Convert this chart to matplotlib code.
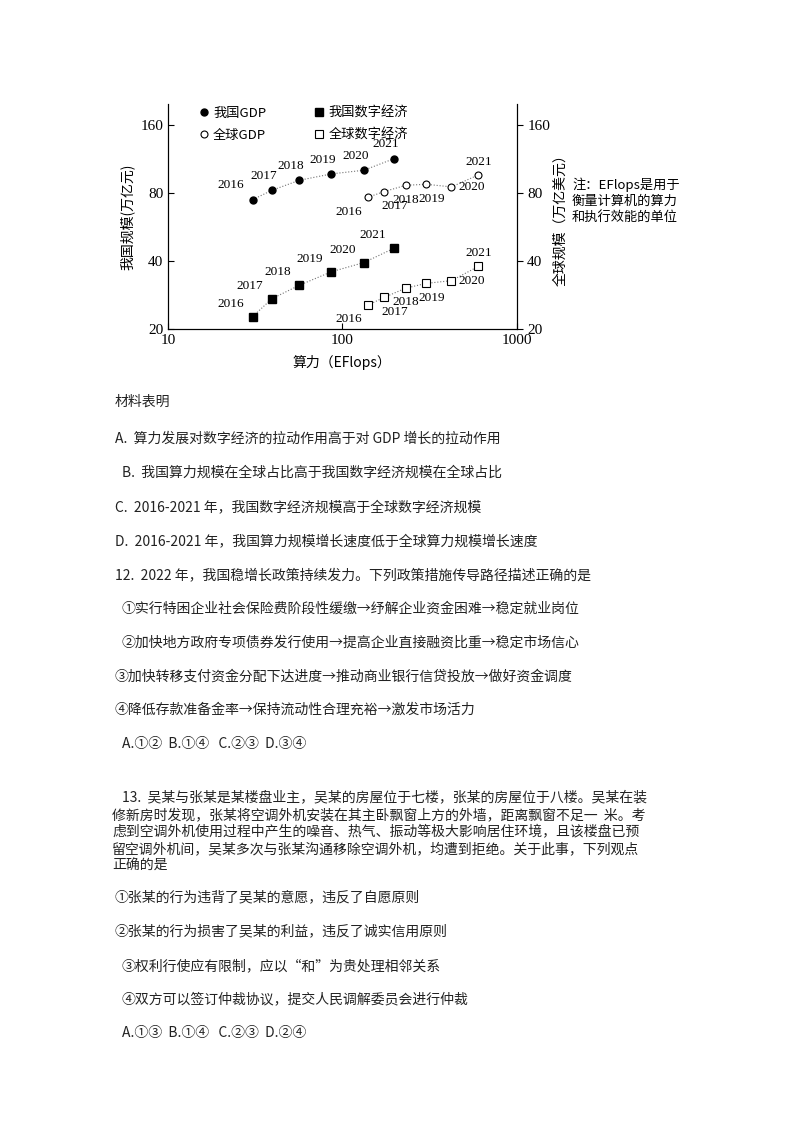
import matplotlib
matplotlib.use("Agg")
import matplotlib.pyplot as plt
from matplotlib.ticker import FixedLocator, NullLocator

plt.rcParams['font.family'] = ['Noto Sans CJK SC', 'DejaVu Sans']
SERIF = ['Liberation Serif', 'Noto Sans CJK SC']

years = ['2016', '2017', '2018', '2019', '2020', '2021']
cn_power = [30.6, 39.4, 56.6, 86.5, 132.8, 198.0]
gl_power = [140, 174, 231, 302, 422, 602]
cn_gdp = [74.6, 82.0, 90.8, 96.9, 100.6, 113.2]
gl_gdp = [76.4, 81.0, 86.3, 87.2, 84.9, 95.9]
cn_dig = [22.7, 27.2, 31.2, 35.8, 39.3, 45.5]
gl_dig = [25.5, 27.6, 30.3, 31.8, 32.7, 37.8]
yticks = [20, 40, 80, 160]

fig = plt.figure(figsize=(8, 11.32), dpi=100)
ax = fig.add_axes([0.21, 0.7094, 0.436, 0.199])
ax.set_xscale('log')
ax.set_yscale('log', base=2)
ax.set_xlim(10, 1000)
ax.set_ylim(20, 198)
ax.spines['top'].set_visible(False)
ax.yaxis.set_minor_locator(NullLocator())
ax.xaxis.set_minor_locator(NullLocator())
ax.set_yticks(yticks)
ax.set_yticklabels([str(v) for v in yticks], family=SERIF, fontsize=11)
ax.set_xticks([10, 100, 1000])
ax.set_xticklabels(['10', '100', '1000'], family=SERIF, fontsize=11)
ax.tick_params(direction='in', length=4)
ax.set_xlabel('算力（EFlops）', fontsize=10, labelpad=6)
ax.set_ylabel('我国规模(万亿元)', fontsize=10)

ax2 = ax.twinx()
ax2.set_yscale('log', base=2)
ax2.set_ylim(20, 198)
ax2.spines['top'].set_visible(False)
ax2.set_yticks(yticks)
ax2.yaxis.set_minor_locator(NullLocator())
ax2.set_yticklabels([str(v) for v in yticks], family=SERIF, fontsize=11)
ax2.tick_params(direction='out', length=4)
ax2.set_ylabel('全球规模（万亿美元）', fontsize=10, labelpad=2)

lk = dict(color='0.45', lw=0.8, ls=':')
ax.plot(cn_power, cn_gdp, **lk)
ax.plot(gl_power, gl_gdp, **lk)
ax.plot(cn_power, cn_dig, **lk)
ax.plot(gl_power, gl_dig, **lk)
h1, = ax.plot(cn_power, cn_gdp, 'o', color='k', ms=5, ls='none', label='我国GDP')
h2, = ax.plot(gl_power, gl_gdp, 'o', mfc='white', mec='k', mew=0.8, ms=5, ls='none', label='全球GDP')
h3, = ax.plot(cn_power, cn_dig, 's', color='k', ms=5.5, ls='none', label='我国数字经济')
h4, = ax.plot(gl_power, gl_dig, 's', mfc='white', mec='k', mew=0.8, ms=5.5, ls='none', label='全球数字经济')
ax.legend(handles=[h1, h2, h3, h4], ncol=2, frameon=False, loc='upper left',
          bbox_to_anchor=(0.05, 1.04), fontsize=9.5, handletextpad=0.2,
          columnspacing=3.5, handlelength=1, labelspacing=0.7)

tk = dict(fontsize=9.5, family=SERIF)
for x, y, t in zip(cn_power, cn_gdp, years):
    ax.annotate(t, (x, y), xytext=(-6, 6), textcoords='offset points',
                ha='right' if t == '2016' else 'center', va='bottom', **tk)
for x, y, t in zip(cn_power, cn_dig, years):
    ax.annotate(t, (x, y), xytext=(-6, 5), textcoords='offset points', ha='right', va='bottom', **tk)
offs_g = {'2016': (-4, -6, 'right', 'top'), '2017': (-2, -6, 'left', 'top'),
          '2018': (0, -6, 'center', 'top'), '2019': (4, -6, 'center', 'top'),
          '2020': (5, 0, 'left', 'center'), '2021': (0, 5, 'center', 'bottom')}
for x, y, t in zip(gl_power, gl_gdp, years):
    dx, dy, ha, va = offs_g[t]
    ax.annotate(t, (x, y), xytext=(dx, dy), textcoords='offset points', ha=ha, va=va, **tk)
for x, y, t in zip(gl_power, gl_dig, years):
    dx, dy, ha, va = offs_g[t]
    ax.annotate(t, (x, y), xytext=(dx, dy), textcoords='offset points', ha=ha, va=va, **tk)

fig.text(0.715, 0.823, '注：EFlops是用于\n衡量计算机的算力\n和执行效能的单位', fontsize=9.5,
         va='center', ha='left', linespacing=1.3)

lines = [
    (115, 402, '材料表明'),
    (115, 439, 'A.  算力发展对数字经济的拉动作用高于对 GDP 增长的拉动作用'),
    (122, 473, 'B.  我国算力规模在全球占比高于我国数字经济规模在全球占比'),
    (115, 507, 'C.  2016-2021 年，我国数字经济规模高于全球数字经济规模'),
    (115, 541, 'D.  2016-2021 年，我国算力规模增长速度低于全球算力规模增长速度'),
    (115, 575, '12.  2022 年，我国稳增长政策持续发力。下列政策措施传导路径描述正确的是'),
    (122, 609, '①实行特困企业社会保险费阶段性缓缴→纾解企业资金困难→稳定就业岗位'),
    (122, 643, '②加快地方政府专项债券发行使用→提高企业直接融资比重→稳定市场信心'),
    (115, 677, '③加快转移支付资金分配下达进度→推动商业银行信贷投放→做好资金调度'),
    (115, 710, '④降低存款准备金率→保持流动性合理充裕→激发市场活力'),
    (122, 744, 'A.①②  B.①④   C.②③  D.③④'),
    (122, 797, '13.  吴某与张某是某楼盘业主，吴某的房屋位于七楼，张某的房屋位于八楼。吴某在装'),
    (112, 815, '修新房时发现，张某将空调外机安装在其主卧飘窗上方的外墙，距离飘窗不足一  米。考'),
    (112, 832, '虑到空调外机使用过程中产生的噪音、热气、振动等极大影响居住环境，且该楼盘已预'),
    (112, 849, '留空调外机间，吴某多次与张某沟通移除空调外机，均遭到拒绝。关于此事，下列观点'),
    (112, 866, '正确的是'),
    (115, 897, '①张某的行为违背了吴某的意愿，违反了自愿原则'),
    (115, 931, '②张某的行为损害了吴某的利益，违反了诚实信用原则'),
    (122, 966, '③权利行使应有限制，应以“和”为贵处理相邻关系'),
    (122, 999, '④双方可以签订仲裁协议，提交人民调解委员会进行仲裁'),
    (122, 1033, 'A.①③  B.①④   C.②③  D.②④'),
]
for x, y, t in lines:
    fig.text(x / 800, 1 - y / 1132, t, fontsize=10, ha='left', va='center', color='#222222')

fig.savefig('out.png', dpi=100)
